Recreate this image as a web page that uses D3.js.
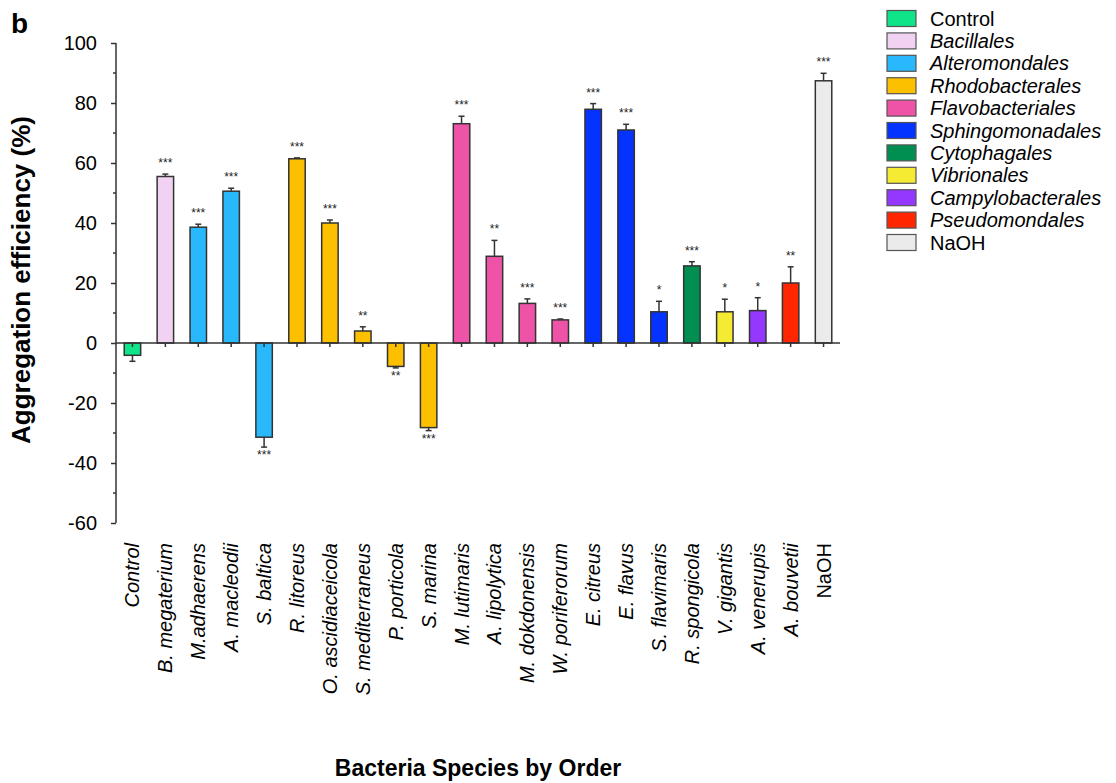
<!DOCTYPE html>
<html>
<head>
<meta charset="utf-8">
<script src="https://cdn.jsdelivr.net/npm/d3@7"></script>
<style>
  body { margin: 0; background: #fff; }
  text { font-family: "Liberation Sans", Arial, Helvetica, sans-serif; }
</style>
</head>
<body>
<script>
// species on the x axis, in plot order
var species = ["Control", "B. megaterium", "M.adhaerens", "A. macleodii", "S. baltica",
	"R. litoreus", "O. ascidiaceicola", "S. mediterraneus", "P. porticola", "S. marina",
	"M. lutimaris", "A. lipolytica", "M. dokdonensis", "W. poriferorum", "E. citreus",
	"E. flavus", "S. flavimaris", "R. spongicola", "V. gigantis", "A. venerupis",
	"A. bouvetii", "NaOH"];

// order each species belongs to
var orderOf = ["Control", "Bacillales", "Alteromondales", "Alteromondales", "Alteromondales",
	"Rhodobacterales", "Rhodobacterales", "Rhodobacterales", "Rhodobacterales", "Rhodobacterales",
	"Flavobacteriales", "Flavobacteriales", "Flavobacteriales", "Flavobacteriales", "Sphingomonadales",
	"Sphingomonadales", "Sphingomonadales", "Cytophagales", "Vibrionales", "Campylobacterales",
	"Pseudomondales", "NaOH"];

// aggregation efficiency (%) and error
var efficiency = [-4.1, 55.5, 38.6, 50.6, -31.4, 61.4, 40.0, 4.0, -7.8, -28.2,
	73.1, 28.9, 13.2, 7.7, 77.9, 71.0, 10.4, 25.7, 10.4, 10.8, 20.0, 87.4];
var errors = [2.0, 0.8, 1.0, 1.0, 3.3, 0.3, 1.0, 1.4, 0.5, 1.0,
	2.5, 5.3, 1.5, 0.3, 1.9, 1.9, 3.5, 1.4, 4.2, 4.3, 5.4, 2.5];
var stars = ["", "***", "***", "***", "***", "***", "***", "**", "**", "***",
	"***", "**", "***", "***", "***", "***", "*", "***", "*", "*", "**", "***"];

// legend entries
var orders = ["Control", "Bacillales", "Alteromondales", "Rhodobacterales", "Flavobacteriales",
	"Sphingomonadales", "Cytophagales", "Vibrionales", "Campylobacterales", "Pseudomondales", "NaOH"];
var orderColors = ["#0fe489", "#f2d2f2", "#2ab8fd", "#fcc000", "#ef53a8",
	"#0433ff", "#008f51", "#f6eb33", "#9437ff", "#ff2600", "#ebebeb"];

var yTicks = [-60, -40, -20, 0, 20, 40, 60, 80, 100];

var W = 1116, H = 783;
var svg = d3.select("body").append("svg")
	.attr("width", W)
	.attr("height", H);

var x = d3.scaleBand()
	.domain(species)
	.range([116, 840])
	.paddingInner(0.5)
	.paddingOuter(0.25);

var y = d3.scaleLinear()
	.domain([-60, 100])
	.range([523, 43]);

var color = d3.scaleOrdinal()
	.domain(orders)
	.range(orderColors);

var data = species.map(function(s, i) {
	return {name: s, order: orderOf[i], v: efficiency[i], e: errors[i], s: stars[i]};
});

var ink = "#333";

// error bars (one-sided, away from zero)
var eb = svg.append("g");
data.forEach(function(d) {
	var cx = x(d.name) + x.bandwidth() / 2;
	var end = d.v >= 0 ? d.v + d.e : d.v - d.e;
	eb.append("line")
		.attr("x1", cx).attr("x2", cx)
		.attr("y1", y(d.v)).attr("y2", y(end))
		.attr("stroke", ink).attr("stroke-width", 1.5);
	eb.append("line")
		.attr("x1", cx - 3).attr("x2", cx + 3)
		.attr("y1", y(end)).attr("y2", y(end))
		.attr("stroke", ink).attr("stroke-width", 1.5);
});

// bars
svg.append("g").selectAll("rect")
	.data(data)
	.enter()
	.append("rect")
	.attr("x", function(d) { return x(d.name); })
	.attr("width", x.bandwidth())
	.attr("y", function(d) { return y(Math.max(0, d.v)); })
	.attr("height", function(d) { return Math.abs(y(d.v) - y(0)); })
	.attr("fill", function(d) { return color(d.order); })
	.attr("stroke", ink)
	.attr("stroke-width", 1.5);

// significance stars
svg.append("g").selectAll("text")
	.data(data)
	.enter()
	.append("text")
	.attr("x", function(d) { return x(d.name) + x.bandwidth() / 2; })
	.attr("y", function(d) {
		return d.v >= 0 ? y(d.v + d.e) - 7 : y(d.v - d.e) + 12;
	})
	.attr("text-anchor", "middle")
	.style("font-size", "12px")
	.attr("fill", "#222")
	.text(function(d) { return d.s; });

// y axis
var yAxis = svg.append("g")
	.attr("transform", "translate(116,0)")
	.call(d3.axisLeft(y).tickValues(yTicks).tickSize(5).tickPadding(14)
		.tickFormat(function(d) { return String(d); }));
yAxis.selectAll("text").style("font-size", "20px").attr("fill", "#000");
yAxis.selectAll("line").attr("stroke", ink).attr("stroke-width", 1.5);
yAxis.select(".domain").attr("stroke", ink).attr("stroke-width", 1.5).attr("d", "M0,43V523");

// minor y ticks
svg.append("g").selectAll("line")
	.data(d3.range(-50, 100, 20))
	.enter()
	.append("line")
	.attr("x1", 113).attr("x2", 116)
	.attr("y1", function(d) { return y(d); })
	.attr("y2", function(d) { return y(d); })
	.attr("stroke", ink).attr("stroke-width", 1.5);

// x axis along zero
var xAxis = svg.append("g")
	.attr("transform", "translate(0," + y(0) + ")")
	.call(d3.axisBottom(x).tickSize(4).tickFormat(""));
xAxis.select(".domain").attr("stroke", ink).attr("stroke-width", 1.5).attr("d", "M116,0H840");
xAxis.selectAll("line").attr("stroke", ink).attr("stroke-width", 1.5);

// species labels
svg.append("g").selectAll("text")
	.data(species)
	.enter()
	.append("text")
	.attr("transform", function(d) {
		return "translate(" + (x(d) + x.bandwidth() / 2) + ",543) rotate(-90)";
	})
	.attr("text-anchor", "end")
	.attr("dy", "0.35em")
	.style("font-size", "20px")
	.style("font-style", function(d) { return d == "NaOH" ? "normal" : "italic"; })
	.text(function(d) { return d; });

// axis titles
svg.append("text")
	.attr("transform", "translate(30,280) rotate(-90)")
	.attr("text-anchor", "middle")
	.style("font-size", "26px")
	.style("font-weight", "bold")
	.text("Aggregation efficiency (%)");

svg.append("text")
	.attr("x", 478)
	.attr("y", 776)
	.attr("text-anchor", "middle")
	.style("font-size", "23px")
	.style("font-weight", "bold")
	.text("Bacteria Species by Order");

svg.append("text")
	.attr("x", 11)
	.attr("y", 33)
	.style("font-size", "28px")
	.style("font-weight", "bold")
	.text("b");

// legend
var legend = svg.append("g").selectAll("g")
	.data(orders)
	.enter()
	.append("g")
	.attr("transform", function(d, i) { return "translate(887," + (18.5 + i * 22.4) + ")"; });

legend.append("rect")
	.attr("x", 0).attr("y", -8)
	.attr("width", 29).attr("height", 16)
	.attr("fill", function(d) { return color(d); })
	.attr("stroke", "#555")
	.attr("stroke-width", 1.2);

legend.append("text")
	.attr("x", 43)
	.attr("y", 7)
	.style("font-size", "20px")
	.style("font-style", function(d) { return d == "Control" || d == "NaOH" ? "normal" : "italic"; })
	.text(function(d) { return d; });
</script>
</body>
</html>
